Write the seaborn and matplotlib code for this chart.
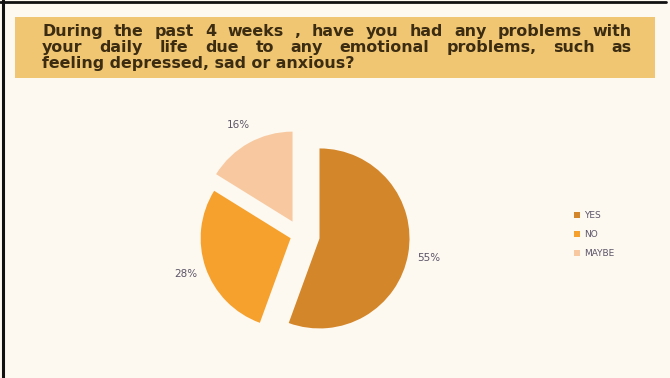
import matplotlib
matplotlib.use("Agg")
import matplotlib.pyplot as plt
import seaborn as sns
from matplotlib.patches import Rectangle
from matplotlib.lines import Line2D

# Survey answers
categories = ["YES", "NO", "MAYBE"]
shares = [55, 28, 16]
title_lines = [
    "During the past 4 weeks , have you had any problems with",
    "your daily life due to any emotional problems, such as",
    "feeling depressed, sad or anxious?",
]

colors = ["#d4862a", "#f6a12e", "#f8c9a0"]
bg = "#fdf9f1"
band = "#f0c672"
text_dark = "#3b2c12"
label_col = "#5c5468"

sns.set_theme(style="white")
plt.rcParams["font.family"] = ["DejaVu Sans"]

W, H = 670, 378
fig = plt.figure(figsize=(W / 100, H / 100), dpi=100, facecolor=bg)

def fx(px):
    return px / W

def fy(py):
    return 1 - py / H

# title band
fig.add_artist(Rectangle((fx(15), fy(78)), fx(655) - fx(15), fy(17) - fy(78),
                         transform=fig.transFigure, facecolor=band,
                         edgecolor="none", zorder=0))

# justified title text
renderer = fig.canvas.get_renderer()
left_px, right_px = 42, 632
baselines = [36, 52, 68]
fs = 11.4
for i, line in enumerate(title_lines):
    words = line.split(" ")
    if i < len(title_lines) - 1:
        arts = [fig.text(0, 0, w, fontsize=fs, fontweight="bold", color=text_dark)
                for w in words]
        widths = [a.get_window_extent(renderer).width for a in arts]
        gap = (right_px - left_px - sum(widths)) / (len(words) - 1)
        x = left_px
        for a, w in zip(arts, widths):
            a.set_position((fx(x), fy(baselines[i])))
            a.set_va("baseline")
            x += w + gap
    else:
        fig.text(fx(left_px), fy(baselines[i]), line, fontsize=fs,
                 fontweight="bold", color=text_dark, va="baseline")

# pie: center (300, 235) px, radius 90 px
size = 300
ax = fig.add_axes([fx(300 - size / 2), fy(235 + size / 2), size / W, size / H])
ax.set_facecolor(bg)
total = sum(shares)
wedges, texts, autotexts = ax.pie(
    shares, colors=colors, startangle=90, counterclock=False,
    explode=[0.22, 0.11, 0.17],
    autopct=lambda p: f"{p * total / 100:.0f}%", pctdistance=1.23,
    textprops=dict(fontsize=7.5, color=label_col),
    wedgeprops=dict(linewidth=0),
)
lim = size / 2 / 90
ax.set_xlim(-lim, lim)
ax.set_ylim(-lim, lim)
ax.set_aspect("equal")
ax.axis("off")

leg = fig.legend(wedges, categories, loc="upper left",
                 bbox_to_anchor=(fx(566), fy(203)), frameon=False,
                 fontsize=6.5, handlelength=0.6, handleheight=0.6,
                 handletextpad=0.5, labelspacing=1.1)
for t in leg.get_texts():
    t.set_color(label_col)

# frame lines
fig.add_artist(Line2D([fx(0), fx(666)], [fy(1.5), fy(1.5)], transform=fig.transFigure,
                      color="#111111", linewidth=2))
fig.add_artist(Line2D([fx(3), fx(3)], [fy(0), fy(378)], transform=fig.transFigure,
                      color="#111111", linewidth=2.2))

fig.savefig("out.png", dpi=100, facecolor=bg)
